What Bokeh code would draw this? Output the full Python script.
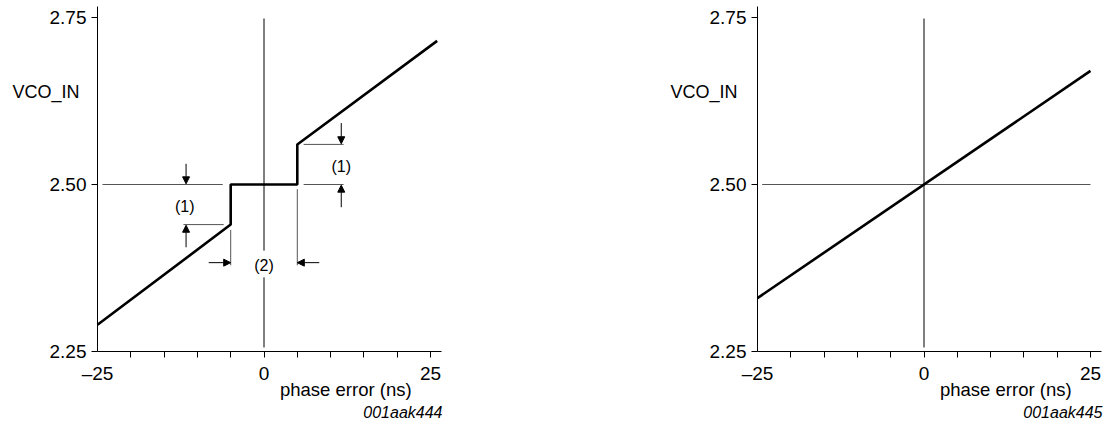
from bokeh.plotting import figure
from bokeh.layouts import row
from bokeh.models import (FixedTicker, Label, Arrow, NormalHead, ColumnDataSource,
                          PrintfTickFormatter)
from bokeh.embed import file_html
from bokeh.resources import INLINE

# ---- data ----
x_major = [-25, 0, 25]
x_minor = [-20, -15, -10, -5, 0, 5, 10, 15, 20, 25]
y_major = [2.25, 2.50, 2.75]

# left chart: transfer with dead zone
dz_phase = [-25, -5, -5, 5, 5, 26]
dz_vco = [2.29, 2.44, 2.50, 2.50, 2.56, 2.715]

# right chart: linear transfer
lin_phase = [-25, 25]
lin_vco = [2.33, 2.67]

# dimension lines (left chart)
dim_x0 = [-24.25, -12.1, 5.95, 5.95, -5.0, 5.0]
dim_x1 = [-6.2, -6.05, 11.95, 11.95, -5.0, 5.0]
dim_y0 = [2.50, 2.44, 2.50, 2.56, 2.432, 2.493]
dim_y1 = [2.50, 2.44, 2.50, 2.56, 2.379, 2.379]

# dimension arrows (left chart)
arr_x0 = [-11.7, -11.7, 11.6, 11.6, -8.3, 8.3]
arr_y0 = [2.531, 2.406, 2.592, 2.466, 2.383, 2.383]
arr_x1 = [-11.7, -11.7, 11.6, 11.6, -5.0, 5.0]
arr_y1 = [2.501, 2.439, 2.561, 2.499, 2.383, 2.383]

note_text = ["(1)", "(1)", "(2)"]
note_x = [-11.9, 11.6, 0.0]
note_y = [2.4675, 2.5274, 2.3787]

FONT = "Liberation Sans"
PX_PER_NS = 6.66
PX_PER_V = 668.0
H = 420


def make_fig(width, axis_px, caption, label_x):
    x0 = -25 - axis_px / PX_PER_NS
    x1 = -25 + (width - axis_px) / PX_PER_NS
    y1 = 2.25 + 351 / PX_PER_V
    y0 = 2.25 - (H - 351) / PX_PER_V
    p = figure(frame_width=width, frame_height=H,
               x_range=(x0, x1), y_range=(y0, y1),
               output_backend="svg", toolbar_location=None,
               min_border=0)
    p.outline_line_color = None
    p.grid.visible = False
    p.background_fill_color = "white"
    p.border_fill_color = "white"

    xa = p.xaxis[0]
    xa.fixed_location = 2.25
    xa.bounds = (-25, 26.6)
    xa.ticker = FixedTicker(ticks=x_major, minor_ticks=x_minor)
    xa.major_tick_out = 0
    xa.major_tick_in = 0
    xa.minor_tick_out = 6
    xa.minor_tick_in = 0
    xa.major_label_standoff = 5
    xa.major_label_overrides = {-25: "\u201325"}
    xa.axis_line_color = "black"
    xa.minor_tick_line_color = "black"
    xa.major_label_text_font = FONT
    xa.major_label_text_font_size = "19px"
    xa.major_label_text_color = "black"

    ya = p.yaxis[0]
    ya.fixed_location = -25
    ya.bounds = (2.25, 2.7665)
    ya.ticker = FixedTicker(ticks=y_major, minor_ticks=[])
    ya.formatter = PrintfTickFormatter(format="%.2f")
    ya.major_tick_out = 6
    ya.major_tick_in = 0
    ya.minor_tick_out = 0
    ya.minor_tick_in = 0
    ya.major_label_standoff = 5
    ya.axis_line_color = "black"
    ya.major_tick_line_color = "black"
    ya.major_label_text_font = FONT
    ya.major_label_text_font_size = "19px"
    ya.major_label_text_color = "black"

    p.add_layout(Label(x=label_x, y=2.639, text="VCO_IN", text_font=FONT,
                       text_font_size="18px", text_align="left",
                       text_baseline="middle", text_color="black"))
    p.add_layout(Label(x=2.4, y=2.1935, text="phase error (ns)", text_font=FONT,
                       text_font_size="18.5px", text_align="left",
                       text_baseline="alphabetic", text_color="black"))
    p.add_layout(Label(x=26.8, y=2.1587, text=caption, text_font=FONT,
                       text_font_size="16px", text_font_style="italic",
                       text_align="right", text_baseline="alphabetic",
                       text_color="black"))
    return p


# ---- left chart ----
p1 = make_fig(460, 97, "001aak444", -37.76)
p1.segment(x0=[0, 0], y0=[2.7485, 2.361], x1=[0, 0], y1=[2.401, 2.256],
           line_color="black", line_width=1)
p1.segment(x0=dim_x0, y0=dim_y0, x1=dim_x1, y1=dim_y1,
           line_color="#555555", line_width=1)
arr_src = ColumnDataSource(dict(x0=arr_x0, y0=arr_y0, x1=arr_x1, y1=arr_y1))
p1.add_layout(Arrow(end=NormalHead(size=7, fill_color="black", line_color="black"),
                    x_start="x0", y_start="y0", x_end="x1", y_end="y1",
                    source=arr_src, line_color="black", line_width=1))
p1.line(dz_phase, dz_vco, line_color="black", line_width=2.6)
for t, xx, yy in zip(note_text, note_x, note_y):
    p1.add_layout(Label(x=xx, y=yy, text=t, text_font=FONT, text_font_size="16px",
                        text_align="center", text_baseline="middle",
                        text_color="black"))

# ---- right chart ----
p2 = make_fig(644, 297, "001aak445", -38.06)
p2.segment(x0=[0], y0=[2.7485], x1=[0], y1=[2.256], line_color="black", line_width=1)
p2.segment(x0=[-24.3], y0=[2.50], x1=[25], y1=[2.50], line_color="#555555", line_width=1)
p2.line(lin_phase, lin_vco, line_color="black", line_width=2.6)

layout = row(p1, p2)
open("out.html", "w").write(file_html(layout, INLINE))
